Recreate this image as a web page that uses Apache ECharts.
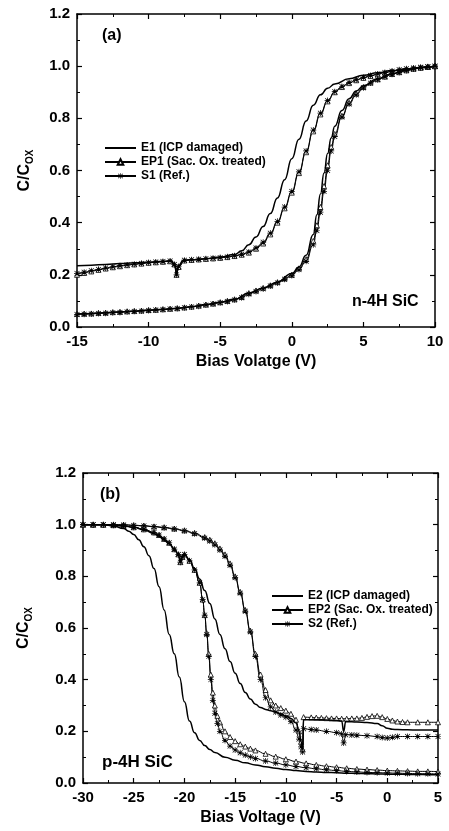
<!DOCTYPE html>
<html>
<head>
<meta charset="utf-8">
<script src="https://cdn.jsdelivr.net/npm/echarts@6/dist/echarts.min.js"></script>
<style>
html,body{margin:0;padding:0;background:#fff;}
#c{width:449px;height:831px;}
</style>
</head>
<body>
<div id="c"></div>
<script>
// ---------- tick labels ----------
const xTicksA = [-15, -10, -5, 0, 5, 10];
const xTicksB = [-30, -25, -20, -15, -10, -5, 0, 5];
const yTicks = [0.0, 0.2, 0.4, 0.6, 0.8, 1.0, 1.2];

// ---------- legend names ----------
const namesA = ['E1 (ICP damaged)', 'EP1 (Sac. Ox. treated)', 'S1 (Ref.)'];
const namesB = ['E2 (ICP damaged)', 'EP2 (Sac. Ox. treated)', 'S2 (Ref.)'];

// ---------- panel (a): n-4H SiC, [V, C/Cox] ----------
const E1_up = [[-15,0.235],[-14,0.237],[-13,0.24],[-12,0.243],[-11,0.246],[-10,0.249],[-9,0.252],[-8.4,0.254],[-8.15,0.235],[-8.05,0.205],[-7.9,0.235],[-7.6,0.255],[-7,0.258],[-6,0.262],[-5,0.268],[-4,0.278],[-3.5,0.292],[-3,0.315],[-2.5,0.345],[-2,0.385],[-1.5,0.435],[-1,0.495],[-0.5,0.565],[0,0.645],[0.5,0.72],[1,0.79],[1.5,0.85],[2,0.89],[2.5,0.915],[3,0.932],[4,0.952],[5,0.965],[6,0.975],[7,0.983],[8,0.99],[9,0.995],[10,1.0]];
const E1_lo = [[-15,0.05],[-14,0.052],[-13,0.055],[-12,0.058],[-11,0.061],[-10,0.065],[-9,0.068],[-8,0.072],[-7,0.078],[-6,0.086],[-5,0.095],[-4,0.106],[-3,0.13],[-2,0.15],[-1,0.172],[0,0.205],[0.5,0.23],[1,0.275],[1.5,0.355],[1.75,0.43],[2,0.51],[2.25,0.59],[2.5,0.665],[2.75,0.725],[3,0.77],[3.5,0.83],[4,0.875],[4.5,0.905],[5,0.925],[6,0.952],[7,0.971],[8,0.985],[9,0.994],[10,1.0]];
const EP1_up = [[-15,0.2],[-14.5,0.207],[-14,0.213],[-13.5,0.219],[-13,0.224],[-12.5,0.229],[-12,0.233],[-11.5,0.237],[-11,0.24],[-10.5,0.243],[-10,0.246],[-9.5,0.248],[-9,0.25],[-8.5,0.252],[-8.2,0.24],[-8.05,0.2],[-7.9,0.23],[-7.5,0.255],[-7,0.257],[-6.5,0.259],[-6,0.261],[-5.5,0.263],[-5,0.265],[-4.5,0.268],[-4,0.272],[-3.5,0.277],[-3,0.285],[-2.5,0.3],[-2,0.32],[-1.5,0.355],[-1,0.4],[-0.5,0.455],[0,0.515],[0.5,0.59],[1,0.67],[1.5,0.75],[2,0.815],[2.5,0.865],[3,0.9],[3.5,0.92],[4,0.935],[4.5,0.946],[5,0.955],[5.5,0.962],[6,0.969],[6.5,0.975],[7,0.98],[7.5,0.985],[8,0.989],[8.5,0.992],[9,0.995],[9.5,0.998],[10,1.0]];
const EP1_lo = [[-15,0.05],[-14.5,0.051],[-14,0.052],[-13.5,0.054],[-13,0.055],[-12.5,0.057],[-12,0.058],[-11.5,0.06],[-11,0.061],[-10.5,0.063],[-10,0.065],[-9.5,0.066],[-9,0.068],[-8.5,0.07],[-8,0.072],[-7.5,0.075],[-7,0.078],[-6.5,0.082],[-6,0.086],[-5.5,0.09],[-5,0.095],[-4.5,0.1],[-4,0.106],[-3.5,0.115],[-3,0.13],[-2.5,0.14],[-2,0.15],[-1.5,0.16],[-1,0.172],[-0.5,0.186],[0,0.2],[0.5,0.225],[1,0.26],[1.5,0.33],[1.75,0.39],[2,0.46],[2.25,0.54],[2.5,0.62],[2.75,0.69],[3,0.74],[3.5,0.81],[4,0.86],[4.5,0.895],[5,0.92],[5.5,0.937],[6,0.95],[6.5,0.96],[7,0.97],[7.5,0.977],[8,0.984],[8.5,0.99],[9,0.994],[9.5,0.997],[10,1.0]];
const S1_up = [[-15,0.205],[-14.5,0.21],[-14,0.216],[-13.5,0.221],[-13,0.226],[-12.5,0.231],[-12,0.235],[-11.5,0.238],[-11,0.241],[-10.5,0.244],[-10,0.247],[-9.5,0.249],[-9,0.251],[-8.5,0.253],[-8.2,0.24],[-8.05,0.2],[-7.9,0.232],[-7.5,0.256],[-7,0.258],[-6.5,0.26],[-6,0.262],[-5.5,0.264],[-5,0.266],[-4.5,0.269],[-4,0.273],[-3.5,0.279],[-3,0.288],[-2.5,0.303],[-2,0.325],[-1.5,0.36],[-1,0.405],[-0.5,0.46],[0,0.52],[0.5,0.595],[1,0.675],[1.5,0.755],[2,0.82],[2.5,0.868],[3,0.902],[3.5,0.922],[4,0.937],[4.5,0.948],[5,0.957],[5.5,0.964],[6,0.97],[6.5,0.976],[7,0.981],[7.5,0.986],[8,0.99],[8.5,0.993],[9,0.996],[9.5,0.998],[10,1.0]];
const S1_lo = [[-15,0.048],[-14.5,0.049],[-14,0.05],[-13.5,0.052],[-13,0.053],[-12.5,0.055],[-12,0.056],[-11.5,0.058],[-11,0.06],[-10.5,0.061],[-10,0.063],[-9.5,0.065],[-9,0.067],[-8.5,0.069],[-8,0.071],[-7.5,0.074],[-7,0.077],[-6.5,0.08],[-6,0.084],[-5.5,0.088],[-5,0.093],[-4.5,0.098],[-4,0.104],[-3.5,0.112],[-3,0.126],[-2.5,0.136],[-2,0.146],[-1.5,0.157],[-1,0.169],[-0.5,0.183],[0,0.197],[0.5,0.22],[1,0.252],[1.5,0.315],[1.75,0.37],[2,0.44],[2.25,0.52],[2.5,0.6],[2.75,0.675],[3,0.73],[3.5,0.805],[4,0.855],[4.5,0.89],[5,0.917],[5.5,0.935],[6,0.948],[6.5,0.959],[7,0.969],[7.5,0.976],[8,0.983],[8.5,0.989],[9,0.994],[9.5,0.997],[10,1.0]];

// ---------- panel (b): p-4H SiC, [V, C/Cox] ----------
const E2_lo = [[-30,1.0],[-29,1.0],[-28,1.0],[-27,0.995],[-26,0.985],[-25.5,0.975],[-25,0.962],[-24.5,0.942],[-24,0.915],[-23.5,0.88],[-23,0.83],[-22.5,0.76],[-22,0.67],[-21.5,0.575],[-21,0.5],[-20.5,0.41],[-20,0.315],[-19.5,0.24],[-19,0.195],[-18.5,0.165],[-18,0.145],[-17.5,0.13],[-17,0.118],[-16,0.1],[-15,0.088],[-14,0.078],[-13,0.07],[-12,0.063],[-11,0.057],[-10,0.052],[-9,0.048],[-8,0.045],[-7,0.043],[-6,0.041],[-5,0.04],[-4,0.038],[-3,0.037],[-2,0.036],[-1,0.035],[0,0.034],[1,0.034],[2,0.033],[3,0.033],[4,0.032],[5,0.032]];
const E2_up = [[-30,1.0],[-28,1.0],[-27,0.998],[-26,0.995],[-25,0.99],[-24,0.98],[-23,0.965],[-22.5,0.955],[-22,0.94],[-21.5,0.925],[-21,0.905],[-20.6,0.885],[-20.4,0.855],[-20.2,0.875],[-20,0.885],[-19.5,0.865],[-19,0.83],[-18.5,0.79],[-18,0.745],[-17.5,0.695],[-17,0.635],[-16.5,0.575],[-16,0.52],[-15.5,0.47],[-15,0.425],[-14.5,0.385],[-14,0.35],[-13.5,0.325],[-13,0.305],[-12.5,0.292],[-12,0.285],[-11.5,0.28],[-11,0.274],[-10.5,0.268],[-10,0.26],[-9.5,0.25],[-9,0.232],[-8.7,0.2],[-8.5,0.16],[-8.35,0.13],[-8.25,0.245],[-7.5,0.245],[-7,0.245],[-6,0.244],[-5,0.242],[-4.5,0.24],[-4.3,0.2],[-4.1,0.238],[-3.5,0.237],[-3,0.236],[-2,0.234],[-1,0.23],[-0.5,0.222],[0,0.212],[0.5,0.208],[1,0.207],[2,0.206],[3,0.205],[4,0.205],[5,0.205]];
const EP2_lo = [[-30,1.0],[-29,1.0],[-28,1.0],[-27,0.998],[-26,0.995],[-25,0.99],[-24,0.982],[-23,0.97],[-22.5,0.96],[-22,0.945],[-21.5,0.93],[-21,0.905],[-20.6,0.885],[-20.4,0.855],[-20.2,0.875],[-20,0.885],[-19.5,0.86],[-19,0.825],[-18.5,0.775],[-18.2,0.71],[-18,0.65],[-17.8,0.58],[-17.6,0.5],[-17.4,0.42],[-17.2,0.35],[-17,0.3],[-16.75,0.26],[-16.5,0.235],[-16,0.2],[-15.5,0.178],[-15,0.162],[-14.5,0.15],[-14,0.141],[-13.5,0.133],[-13,0.126],[-12,0.113],[-11,0.102],[-10,0.092],[-9,0.083],[-8,0.076],[-7,0.07],[-6,0.065],[-5,0.061],[-4,0.057],[-3,0.054],[-2,0.052],[-1,0.05],[0,0.048],[1,0.047],[2,0.046],[3,0.045],[4,0.045],[5,0.044]];
const S2_lo = [[-30,1.0],[-29,1.0],[-28,1.0],[-27,0.998],[-26,0.995],[-25,0.99],[-24,0.982],[-23,0.97],[-22.5,0.96],[-22,0.945],[-21.5,0.93],[-21,0.905],[-20.6,0.885],[-20.4,0.855],[-20.2,0.875],[-20,0.885],[-19.5,0.86],[-19,0.825],[-18.5,0.775],[-18.2,0.71],[-18,0.65],[-17.8,0.575],[-17.6,0.49],[-17.4,0.4],[-17.2,0.32],[-17,0.27],[-16.75,0.23],[-16.5,0.2],[-16,0.165],[-15.5,0.143],[-15,0.128],[-14.5,0.117],[-14,0.108],[-13.5,0.101],[-13,0.095],[-12,0.085],[-11,0.077],[-10,0.07],[-9,0.064],[-8,0.059],[-7,0.055],[-6,0.051],[-5,0.048],[-4,0.045],[-3,0.043],[-2,0.041],[-1,0.04],[0,0.039],[1,0.038],[2,0.037],[3,0.036],[4,0.036],[5,0.035]];
const EP2_up = [[-30,1.0],[-29,1.0],[-28,1.0],[-27,1.0],[-26,1.0],[-25,0.998],[-24,0.996],[-23,0.993],[-22,0.99],[-21,0.985],[-20,0.978],[-19,0.968],[-18,0.952],[-17.5,0.942],[-17,0.928],[-16.5,0.908],[-16,0.885],[-15.5,0.85],[-15,0.8],[-14.5,0.74],[-14,0.67],[-13.5,0.59],[-13,0.5],[-12.5,0.42],[-12,0.36],[-11.5,0.32],[-11,0.3],[-10.5,0.29],[-10,0.28],[-9.5,0.268],[-9,0.245],[-8.7,0.2],[-8.5,0.16],[-8.35,0.13],[-8.25,0.255],[-7.5,0.254],[-7,0.253],[-6.5,0.252],[-6,0.251],[-5.5,0.25],[-5,0.25],[-4.5,0.249],[-4,0.249],[-3.5,0.25],[-3,0.25],[-2.5,0.252],[-2,0.256],[-1.5,0.259],[-1,0.26],[-0.5,0.255],[0,0.248],[0.5,0.242],[1,0.238],[1.5,0.236],[2,0.235],[3,0.235],[4,0.235],[5,0.235]];
const S2_up = [[-30,1.0],[-29,1.0],[-28,1.0],[-27,1.0],[-26,0.999],[-25,0.997],[-24,0.995],[-23,0.992],[-22,0.988],[-21,0.983],[-20,0.976],[-19,0.965],[-18,0.948],[-17.5,0.937],[-17,0.922],[-16.5,0.902],[-16,0.878],[-15.5,0.843],[-15,0.795],[-14.5,0.735],[-14,0.665],[-13.5,0.585],[-13,0.49],[-12.5,0.4],[-12,0.33],[-11.5,0.295],[-11,0.275],[-10.5,0.263],[-10,0.255],[-9.5,0.238],[-9,0.205],[-8.7,0.17],[-8.5,0.14],[-8.35,0.12],[-8.25,0.21],[-7.5,0.207],[-7,0.205],[-6,0.2],[-5,0.195],[-4.5,0.19],[-4.3,0.155],[-4.1,0.187],[-3.5,0.186],[-3,0.185],[-2,0.183],[-1,0.18],[-0.5,0.176],[0,0.174],[0.5,0.177],[1,0.18],[2,0.18],[3,0.18],[4,0.18],[5,0.18]];

// ---------- styling ----------
const FONT = 'Liberation Sans';
const ASTER = 'path://M4.4,0H5.6V10H4.4Z M0,4.4H10V5.6H0Z M1.3,0.5L9.5,8.7L8.7,9.5L0.5,1.3Z M8.7,0.5L9.5,1.3L1.3,9.5L0.5,8.7Z';

function xAxes(ticks, grid) {
  const base = {
    gridIndex: grid, type: 'value',
    min: ticks[0], max: ticks[ticks.length - 1], interval: ticks[1] - ticks[0],
    axisLine: {show: true, onZero: false, lineStyle: {color: '#000', width: 1.5}},
    axisTick: {show: true, inside: true, length: 5, lineStyle: {color: '#000', width: 1.2}},
    minorTick: {show: true, splitNumber: 2, length: 3, lineStyle: {color: '#000', width: 1}},
    splitLine: {show: false}
  };
  return [
    Object.assign({}, base, {
      position: 'bottom',
      axisLabel: {show: true, color: '#000', fontFamily: FONT, fontWeight: 'bold', fontSize: 15, margin: 7},
      name: grid === 0 ? 'Bias Volatge (V)' : 'Bias Voltage (V)',
      nameLocation: 'middle', nameGap: 27,
      nameTextStyle: {color: '#000', fontFamily: FONT, fontWeight: 'bold', fontSize: 16}
    }),
    Object.assign({}, base, {position: 'top', axisLabel: {show: false}})
  ];
}
function yAxes(ticks, grid, gap) {
  const base = {
    gridIndex: grid, type: 'value',
    min: ticks[0], max: ticks[ticks.length - 1], interval: ticks[1] - ticks[0],
    axisLine: {show: true, onZero: false, lineStyle: {color: '#000', width: 1.5}},
    axisTick: {show: true, inside: true, length: 5, lineStyle: {color: '#000', width: 1.2}},
    minorTick: {show: true, splitNumber: 2, length: 3, lineStyle: {color: '#000', width: 1}},
    splitLine: {show: false}
  };
  return [
    Object.assign({}, base, {
      position: 'left',
      axisLabel: {show: true, color: '#000', fontFamily: FONT, fontWeight: 'bold', fontSize: 15, margin: 7,
        formatter: v => v.toFixed(1)},
      name: '{a|C/C}{b|OX}',
      nameLocation: 'middle', nameGap: gap,
      nameTextStyle: {
        color: '#000',
        rich: {
          a: {fontFamily: FONT, fontWeight: 'bold', fontSize: 16, color: '#000', lineHeight: 20},
          b: {fontFamily: FONT, fontWeight: 'bold', fontSize: 10, color: '#000', lineHeight: 20, verticalAlign: 'bottom', padding: [8, 0, 0, 0]}
        }
      }
    }),
    Object.assign({}, base, {position: 'right', axisLabel: {show: false}})
  ];
}

function solid(name, data, grid) {
  return {type: 'line', name, data, xAxisIndex: grid * 2, yAxisIndex: grid * 2,
    symbol: 'none', smooth: true, smoothMonotone: 'x',
    lineStyle: {color: '#000', width: 1.5}, itemStyle: {color: '#000'}, z: 3, silent: true};
}
function tri(name, data, grid) {
  return {type: 'line', name, data, xAxisIndex: grid * 2, yAxisIndex: grid * 2,
    symbol: 'triangle', symbolSize: 5, showSymbol: true, smooth: true, smoothMonotone: 'x',
    lineStyle: {color: '#000', width: 1}, itemStyle: {color: '#fff', borderColor: '#000', borderWidth: 0.8}, z: 2, silent: true};
}
function star(name, data, grid) {
  return {type: 'line', name, data, xAxisIndex: grid * 2, yAxisIndex: grid * 2,
    symbol: ASTER, symbolSize: 6, showSymbol: true, smooth: true, smoothMonotone: 'x',
    lineStyle: {color: '#000', width: 1}, itemStyle: {color: '#000'}, z: 2, silent: true};
}

const legendText = {color: '#000', fontFamily: FONT, fontWeight: 'bold', fontSize: 12};
function legendData(names) {
  return [
    {name: names[0], itemStyle: {opacity: 0}},
    {name: names[1]},
    {name: names[2]}
  ];
}

const option = {
  animation: false,
  backgroundColor: '#fff',
  grid: [
    {left: 77, top: 14, width: 358, height: 313},
    {left: 83, top: 473, width: 355, height: 310}
  ],
  xAxis: [...xAxes(xTicksA, 0), ...xAxes(xTicksB, 1)],
  yAxis: [...yAxes(yTicks, 0, 42), ...yAxes(yTicks, 1, 49)],
  legend: [
    {data: legendData(namesA), orient: 'vertical', left: 99, top: 137, itemWidth: 31, itemHeight: 7, itemGap: 2,
      selectedMode: false, textStyle: legendText},
    {data: legendData(namesB), orient: 'vertical', left: 266, top: 585, itemWidth: 31, itemHeight: 7, itemGap: 2,
      selectedMode: false, textStyle: legendText}
  ],
  graphic: [
    {type: 'text', left: 102, top: 28, style: {text: '(a)', font: 'bold 16px "Liberation Sans"', fill: '#000'}},
    {type: 'text', left: 352, top: 294, style: {text: 'n-4H SiC', font: 'bold 16px "Liberation Sans"', fill: '#000'}},
    {type: 'text', left: 100, top: 487, style: {text: '(b)', font: 'bold 16px "Liberation Sans"', fill: '#000'}},
    {type: 'text', left: 102, top: 754, style: {text: 'p-4H SiC', font: 'bold 17px "Liberation Sans"', fill: '#000'}}
  ],
  series: [
    solid(namesA[0], E1_up, 0),
    solid(namesA[0], E1_lo, 0),
    tri(namesA[1], EP1_up, 0),
    tri(namesA[1], EP1_lo, 0),
    star(namesA[2], S1_up, 0),
    star(namesA[2], S1_lo, 0),
    solid(namesB[0], E2_lo, 1),
    solid(namesB[0], E2_up, 1),
    tri(namesB[1], EP2_lo, 1),
    tri(namesB[1], EP2_up, 1),
    star(namesB[2], S2_lo, 1),
    star(namesB[2], S2_up, 1)
  ]
};

const chart = echarts.init(document.getElementById('c'), null, {renderer: 'canvas'});
chart.setOption(option);
</script>
</body>
</html>
